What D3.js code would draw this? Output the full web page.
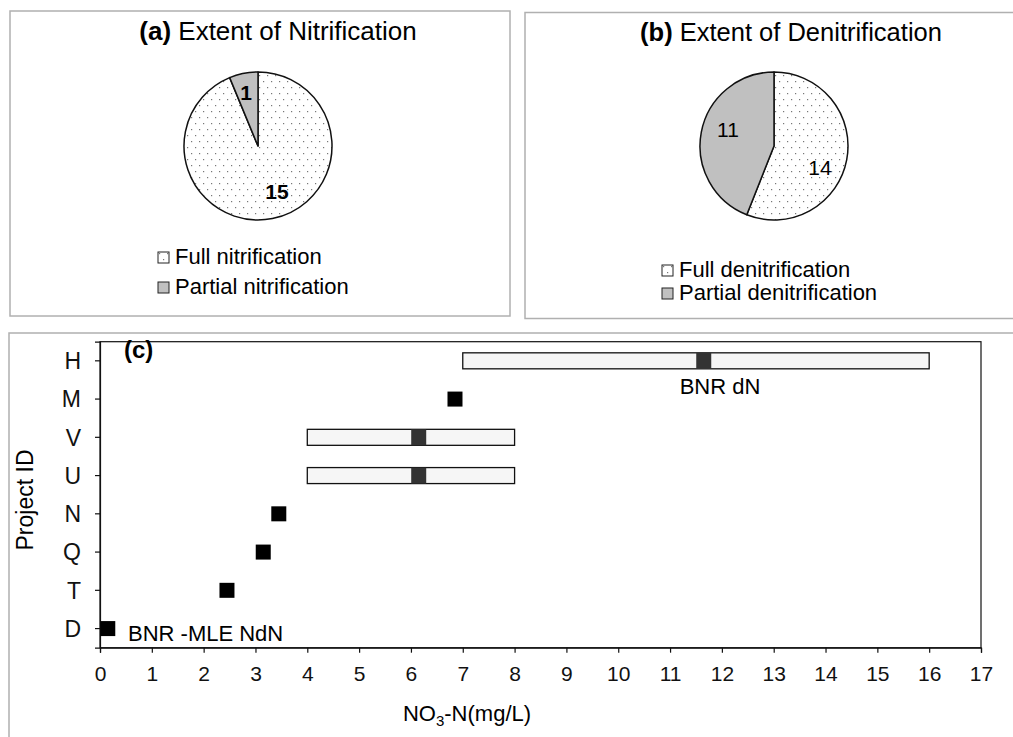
<!DOCTYPE html>
<html>
<head>
<meta charset="utf-8">
<script src="https://cdn.jsdelivr.net/npm/d3@7"></script>
<style>
  html, body { margin: 0; padding: 0; background: #fff; }
  svg { display: block; font-family: "Liberation Sans", Arial, sans-serif; }
</style>
</head>
<body>
<svg id="chart" width="1013" height="737"></svg>
<script>
// ---- Data ----
const nitrifLabels = ["Full nitrification", "Partial nitrification"];
const nitrifCounts = [15, 1];

const denitrifLabels = ["Full denitrification", "Partial denitrification"];
const denitrifCounts = [14, 11];

// Project IDs, top to bottom
const projectIds = ["H", "M", "V", "U", "N", "Q", "T", "D"];
// Single NO3-N values (mg/L)
const pointProjects = ["M", "N", "Q", "T", "D"];
const pointValues = [6.85, 3.45, 3.15, 2.45, 0.15];
// Ranges (low, high) with a typical value
const rangeProjects = ["H", "V", "U"];
const rangeLow = [7, 4, 4];
const rangeHigh = [16, 8, 8];
const rangeMid = [11.65, 6.15, 6.15];

const xTicks = d3.range(0, 18);

const svg = d3.select("#chart");

// dotted fill for the "full" slices
const defs = svg.append("defs");
const pat = defs.append("pattern")
  .attr("id", "dots").attr("patternUnits", "userSpaceOnUse")
  .attr("width", 8).attr("height", 12);
pat.append("rect").attr("width", 8).attr("height", 12).attr("fill", "#fff");
pat.append("rect").attr("x", 1).attr("y", 1).attr("width", 1.2).attr("height", 1.2).attr("fill", "#777");
pat.append("rect").attr("x", 5).attr("y", 7).attr("width", 1.2).attr("height", 1.2).attr("fill", "#777");

const fills = ["url(#dots)", "#c0c0c0"];

// panel frames
svg.append("rect").attr("x", 10).attr("y", 11).attr("width", 500).attr("height", 305)
  .attr("fill", "none").attr("stroke", "#b0b0b0").attr("stroke-width", 1.5);
svg.append("rect").attr("x", 525).attr("y", 12.5).attr("width", 520).attr("height", 306)
  .attr("fill", "none").attr("stroke", "#b0b0b0").attr("stroke-width", 1.5);
svg.append("rect").attr("x", 9).attr("y", 333).attr("width", 1040).attr("height", 440)
  .attr("fill", "none").attr("stroke", "#b0b0b0").attr("stroke-width", 1.5);

// ---- Pie panels ----
function piePanel(cfg) {
  const g = svg.append("g");
  const title = g.append("text").attr("x", cfg.titleX).attr("y", cfg.titleY)
    .attr("text-anchor", "middle").attr("font-size", cfg.titleSize).attr("fill", "#000");
  title.append("tspan").attr("font-weight", "bold").text(cfg.tag);
  title.append("tspan").text(" " + cfg.title);

  const pie = d3.pie().sort(null).value(d => d);
  const arc = d3.arc().innerRadius(0).outerRadius(cfg.r);
  const arcs = pie(cfg.values);
  const pg = g.append("g").attr("transform", `translate(${cfg.cx},${cfg.cy})`);
  pg.selectAll("path").data(arcs).join("path")
    .attr("d", arc)
    .attr("fill", (d, i) => fills[i])
    .attr("stroke", "#111").attr("stroke-width", 1.5).attr("stroke-linejoin", "round");

  pg.selectAll("text.val").data(arcs).join("text")
    .attr("class", "val")
    .attr("x", (d, i) => cfg.labelPos[i][0])
    .attr("y", (d, i) => cfg.labelPos[i][1])
    .attr("text-anchor", "middle")
    .attr("font-size", 21)
    .attr("font-weight", cfg.boldValues ? "bold" : "normal")
    .text(d => d.data);

  const lg = g.selectAll("g.leg").data(cfg.labels).join("g")
    .attr("class", "leg")
    .attr("transform", (d, i) => `translate(${cfg.legX},${cfg.legY[i]})`);
  lg.append("rect").attr("x", 0).attr("y", -12).attr("width", 11).attr("height", 11)
    .attr("fill", (d, i) => fills[i]).attr("stroke", "#222").attr("stroke-width", 1);
  lg.append("text").attr("x", 17).attr("y", 0).attr("font-size", 22).text(d => d);
}

piePanel({
  tag: "(a)", title: "Extent of Nitrification", titleX: 278, titleY: 40, titleSize: 26,
  values: nitrifCounts, labels: nitrifLabels,
  cx: 258, cy: 146, r: 74,
  labelPos: [[19, 53], [-12, -46]], boldValues: true,
  legX: 158, legY: [264, 294]
});

piePanel({
  tag: "(b)", title: "Extent of Denitrification", titleX: 791, titleY: 41, titleSize: 25.5,
  values: denitrifCounts, labels: denitrifLabels,
  cx: 774, cy: 146, r: 74,
  labelPos: [[46, 29], [-46, -9]], boldValues: false,
  legX: 662, legY: [277, 300]
});

// ---- Panel (c): NO3-N by project ----
const m = { left: 100, right: 981, top: 341.7, bottom: 647.7 };
const x = d3.scaleLinear().domain([0, 17]).range([m.left, m.right]);
const y = d3.scaleBand().domain(projectIds).range([m.top, m.bottom]);
const yc = id => y(id) + y.bandwidth() / 2;

const c = svg.append("g");
c.append("rect").attr("x", m.left).attr("y", m.top)
  .attr("width", m.right - m.left).attr("height", m.bottom - m.top)
  .attr("fill", "none").attr("stroke", "#111").attr("stroke-width", 1.2);

const xAxis = c.append("g").attr("transform", `translate(0,${m.bottom})`)
  .call(d3.axisBottom(x).tickValues(xTicks).tickSize(5).tickPadding(13).tickFormat(d3.format("d")));
const yAxis = c.append("g").attr("transform", `translate(${m.left},0)`)
  .call(d3.axisLeft(y).tickSize(5).tickPadding(14));
[xAxis, yAxis].forEach(a => {
  a.select(".domain").attr("stroke", "#111").attr("stroke-width", 1.2);
  a.selectAll(".tick line").attr("stroke", "#111").attr("stroke-width", 1.2);
  a.selectAll(".tick text").attr("fill", "#111")
    .attr("font-family", "Liberation Sans, Arial, sans-serif");
});
xAxis.selectAll(".tick text").attr("font-size", 21);
yAxis.selectAll(".tick text").attr("font-size", 23).attr("dy", "0.36em");

// range bars
const bh = 16, sq = 15;
rangeProjects.forEach((p, i) => {
  c.append("rect").attr("x", x(rangeLow[i])).attr("y", yc(p) - bh / 2)
    .attr("width", x(rangeHigh[i]) - x(rangeLow[i])).attr("height", bh)
    .attr("fill", "#f6f6f6").attr("stroke", "#111").attr("stroke-width", 1.3);
  c.append("rect").attr("x", x(rangeMid[i]) - sq / 2).attr("y", yc(p) - bh / 2)
    .attr("width", sq).attr("height", bh).attr("fill", "#333");
});

// single values
c.selectAll("rect.pt").data(pointProjects).join("rect")
  .attr("class", "pt")
  .attr("x", (d, i) => Math.max(x(pointValues[i]) - sq / 2, m.left))
  .attr("y", d => yc(d) - sq / 2)
  .attr("width", sq).attr("height", sq).attr("fill", "#000");

// annotations
c.append("text").attr("x", 124).attr("y", 358).attr("font-size", 24).attr("font-weight", "bold").text("(c)");
c.append("text").attr("x", 128).attr("y", 641).attr("font-size", 22).text("BNR -MLE NdN");
c.append("text").attr("x", 720).attr("y", 394).attr("text-anchor", "middle").attr("font-size", 22).text("BNR dN");

// axis titles
const xt = c.append("text").attr("x", 467).attr("y", 721).attr("text-anchor", "middle").attr("font-size", 22);
xt.append("tspan").text("NO");
xt.append("tspan").attr("font-size", 15).attr("dy", 5).text("3");
xt.append("tspan").attr("dy", -5).text("-N(mg/L)");

c.append("text").attr("transform", "translate(33,500) rotate(-90)")
  .attr("text-anchor", "middle").attr("font-size", 23).text("Project ID");
</script>
</body>
</html>
